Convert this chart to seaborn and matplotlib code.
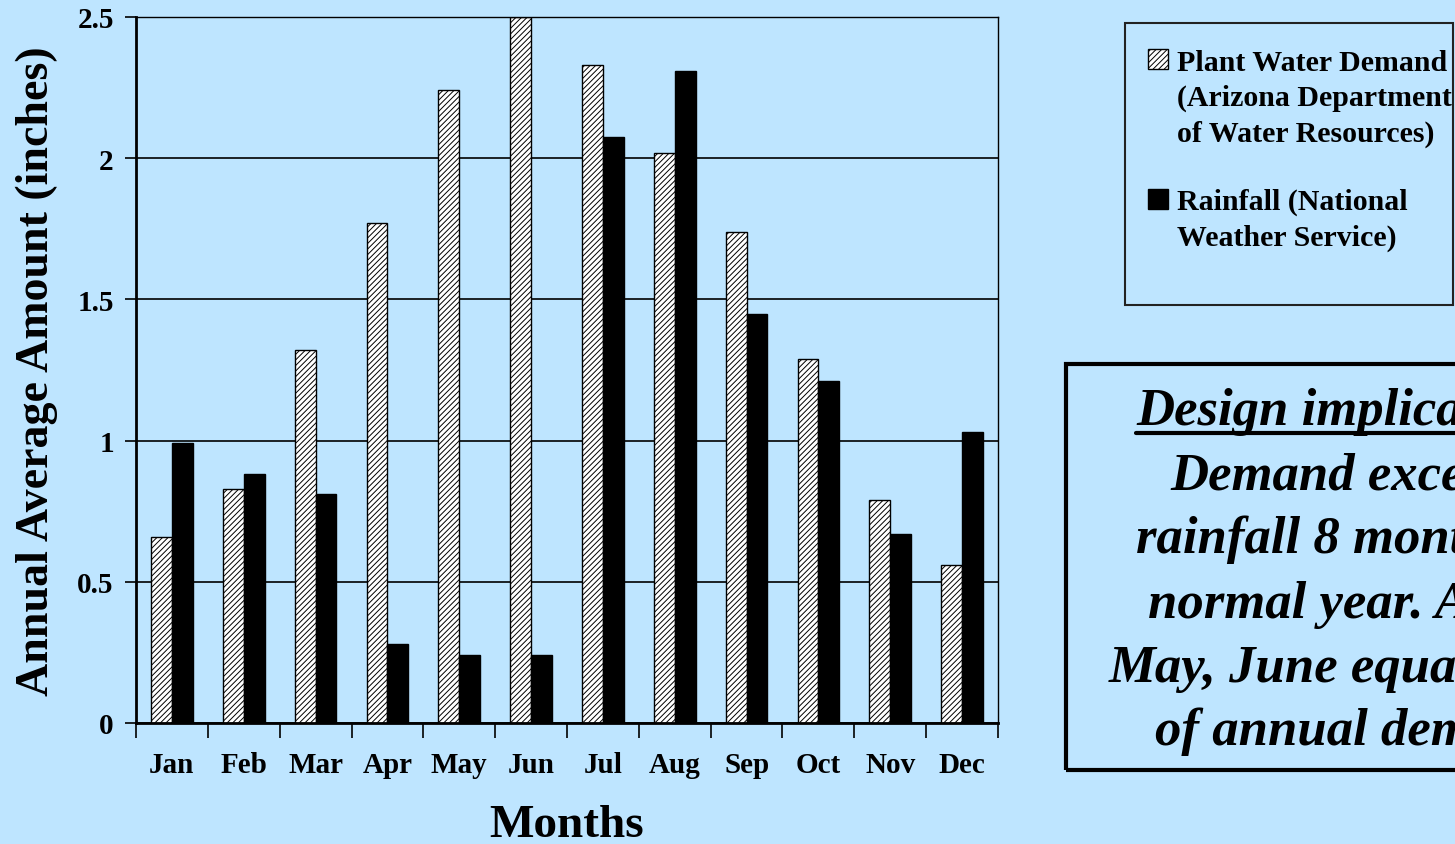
"""Demande en eau des plantes vs pluviometrie mensuelle (Arizona)."""

import matplotlib.pyplot as plt
import pandas as pd
import seaborn as sns
from matplotlib.patches import Rectangle
from matplotlib.lines import Line2D

MONTHS = ["Jan", "Feb", "Mar", "Apr", "May", "Jun", "Jul", "Aug", "Sep", "Oct", "Nov", "Dec"]
DEMAND = [0.66, 0.83, 1.32, 1.77, 2.24, 2.50, 2.33, 2.02, 1.74, 1.29, 0.79, 0.56]
RAINFALL = [0.99, 0.88, 0.81, 0.28, 0.24, 0.24, 2.075, 2.31, 1.45, 1.21, 0.67, 1.03]
Y_TICKS = [0, 0.5, 1, 1.5, 2, 2.5]
Y_TICK_LABELS = ["0", "0.5", "1", "1.5", "2", "2.5"]
DEMAND_LABEL = "Plant Water Demand\n(Arizona Department\nof Water Resources)"
RAIN_LABEL = "Rainfall (National\nWeather Service)"
NOTE_LINES = ["Design implications:", "Demand exceeds", "rainfall 8 months in",
              "normal year. April,", "May, June equal 50%", "of annual demand."]

BG = "#BEE5FF"
W, H = 1455, 845

sns.set_theme(style="white", rc={"figure.facecolor": BG, "axes.facecolor": BG,
                                 "hatch.linewidth": 0.7, "text.color": "black",
                                 "axes.labelcolor": "black", "xtick.color": "black",
                                 "ytick.color": "black"})
plt.rcParams["font.family"] = ["Liberation Serif", "DejaVu Serif"]

data = pd.DataFrame({
    "Month": MONTHS * 2,
    "Amount": DEMAND + RAINFALL,
    "Series": ["demand"] * len(MONTHS) + ["rain"] * len(MONTHS),
})

fig = plt.figure(figsize=(W / 100, H / 100), dpi=100)
ax = fig.add_axes([136 / W, 1 - 724 / H, (998 - 136) / W, (724 - 18) / H])

sns.barplot(data=data, x="Month", y="Amount", hue="Series", hue_order=["demand", "rain"],
            palette={"demand": "white", "rain": "black"}, width=0.58, gap=0,
            edgecolor="black", linewidth=1, legend=False, ax=ax)
for bar in ax.containers[0]:
    bar.set_hatch("//////")

ax.set_ylim(0, 2.5)
ax.set_xlim(-0.5, len(MONTHS) - 0.5)
ax.set_yticks(Y_TICKS, Y_TICK_LABELS)
ax.yaxis.grid(True, color="black", linewidth=1.2)
ax.set_axisbelow(True)
ax.tick_params(axis="y", length=8, width=1.2, direction="out", left=True, pad=8,
               labelsize=21)
ax.tick_params(axis="x", length=0, pad=20, labelsize=21)
ax.set_xticks([i - 0.5 for i in range(len(MONTHS) + 1)], minor=True)
ax.tick_params(axis="x", which="minor", length=11, width=1.2, direction="out", bottom=True)
for label in ax.get_xticklabels() + ax.get_yticklabels():
    label.set_fontweight("bold")
for side, lw in (("left", 2), ("bottom", 2), ("top", 1), ("right", 1)):
    ax.spines[side].set_color("black")
    ax.spines[side].set_linewidth(lw)
ax.set_xlabel("Months", fontsize=34, fontweight="bold", labelpad=19)
ax.set_ylabel("Annual Average Amount (inches)", fontsize=33, fontweight="bold", labelpad=14)


def fx(px):
    return px / W


def fy(py):
    return 1 - py / H


# legende dessinee a la main (cadre plus grand que le contenu)
fig.add_artist(Rectangle((fx(1125), fy(306)), fx(1453) - fx(1125), fy(24) - fy(306),
                         transform=fig.transFigure, facecolor="none", edgecolor="#222222",
                         linewidth=1.5))
fig.add_artist(Rectangle((fx(1148), fy(70)), fx(20), fy(50) - fy(70), transform=fig.transFigure,
                         facecolor="white", edgecolor="black", linewidth=1, hatch="//////"))
fig.add_artist(Rectangle((fx(1148), fy(210)), fx(20), fy(190) - fy(210), transform=fig.transFigure,
                         facecolor="black", edgecolor="black", linewidth=1))
fig.text(fx(1177), fy(50), DEMAND_LABEL, fontsize=21.5, fontweight="bold", va="top",
         ha="left", linespacing=1.38)
fig.text(fx(1177), fy(189), RAIN_LABEL, fontsize=21.5, fontweight="bold", va="top",
         ha="left", linespacing=1.38)

# encadre "Design implications" (coupe au bord droit)
fig.add_artist(Rectangle((fx(1066), fy(771)), fx(1600) - fx(1066), fy(365) - fy(771),
                         transform=fig.transFigure, facecolor="none", edgecolor="black",
                         linewidth=3, clip_on=False))
starts = [1136, 1170, 1136, 1148, 1109, 1155]
baselines = [425, 490, 553, 618, 682, 745]
for line, x0, y0 in zip(NOTE_LINES, starts, baselines):
    fig.text(fx(x0), fy(y0), line, fontsize=38, fontweight="bold", fontstyle="italic",
             ha="left", va="baseline")
fig.add_artist(Line2D([fx(1136), fx(1600)], [fy(434), fy(434)], transform=fig.transFigure,
                      color="black", linewidth=3))

fig.savefig("out.png", dpi=100, facecolor=BG)
